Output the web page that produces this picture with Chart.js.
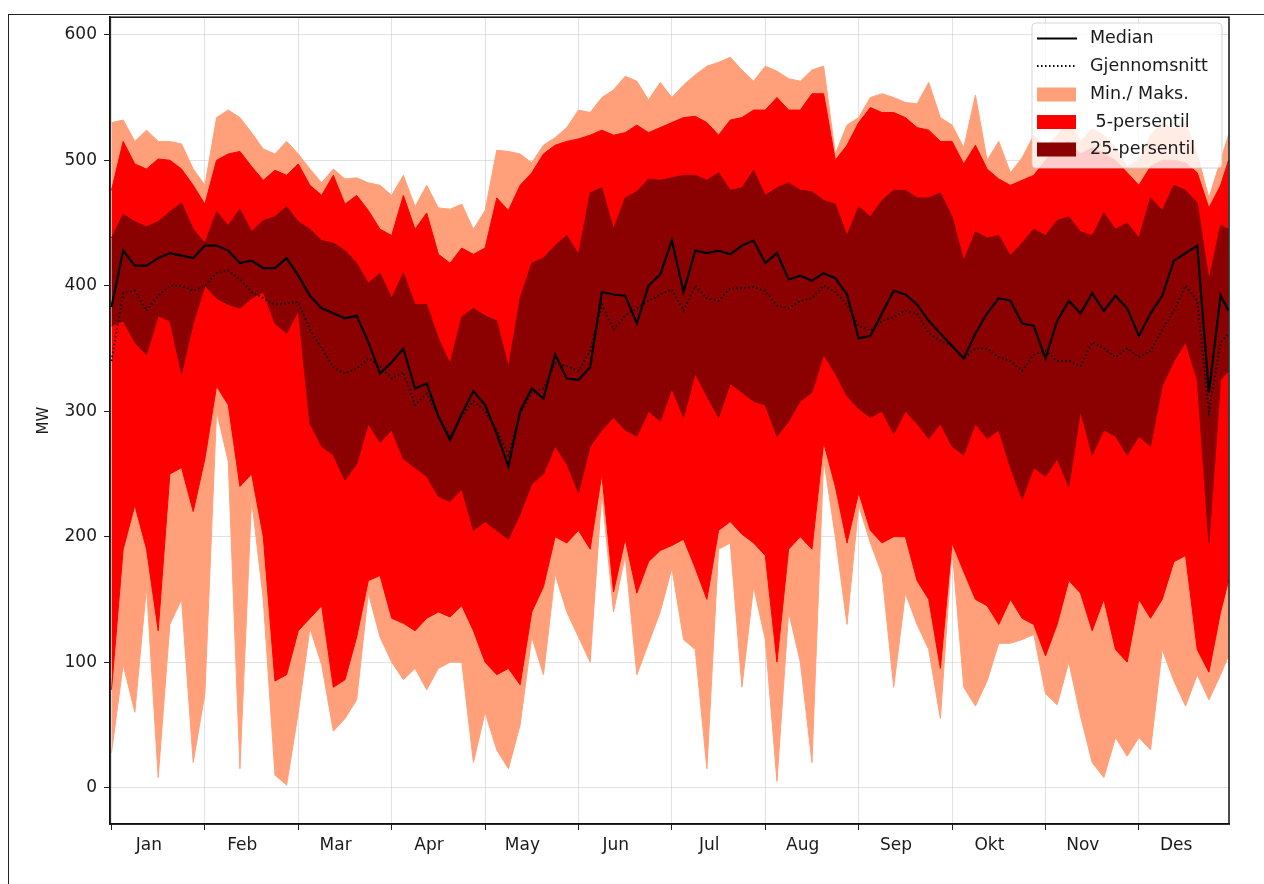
<!DOCTYPE html>
<html>
<head>
<meta charset="utf-8">
<script src="https://cdn.jsdelivr.net/npm/chart.js@4.4.1/dist/chart.umd.min.js"></script>
<style>
  html, body { margin: 0; padding: 0; background: #fff; }
  #wrap { position: relative; width: 1264px; height: 884px; }
  #ramme { position: absolute; left: 8px; top: 14px; right: 0; bottom: 0;
           border-left: 1.5px solid #222; border-top: 1.5px solid #222; }
  canvas { position: absolute; left: 0; top: 0; }
</style>
</head>
<body>
<div id="wrap">
  <div id="ramme"></div>
  <canvas id="graf" width="1264" height="884"></canvas>
</div>
<script>
// Månedsnavn og y-verdier for aksene
const maaneder = ['Jan', 'Feb', 'Mar', 'Apr', 'May', 'Jun', 'Jul', 'Aug', 'Sep', 'Okt', 'Nov', 'Des'];
const yVerdier = [0, 100, 200, 300, 400, 500, 600];
const legendTekster = ['Median', 'Gjennomsnitt', 'Min./ Maks.', ' 5-persentil', '25-persentil'];

// 8 punkter per måned (MW), siste punkt er slutten av desember
const maks = [
  530, 532, 515, 524, 515, 515, 513, 493,
  480, 534, 540, 534, 522, 509, 505, 515,
  505, 493, 482, 493, 485, 486, 482, 480,
  472, 488, 463, 480, 462, 461, 465, 445,
  460, 508, 507, 505, 498, 512, 518, 526,
  540, 538, 550, 556, 567, 563, 548, 562,
  550, 560, 568, 575, 578, 582, 572, 563,
  575, 571, 565, 563, 572, 575, 505, 528,
  534, 550, 553, 550, 546, 545, 562, 534,
  528, 510, 552, 500, 515, 490, 502, 520,
  510, 520, 530, 515, 525, 520, 510, 495,
  500, 520, 530, 525, 530, 505, 470, 500, 520
];
const p95 = [
  476, 515, 497, 493, 501, 500, 493, 480,
  465, 500, 505, 507, 495, 484, 492, 488,
  497, 480, 472, 488, 465, 472, 460, 445,
  440, 472, 445, 458, 425, 418, 430, 425,
  430, 470, 460, 480, 490, 505, 512, 515,
  517, 520, 524, 520, 522, 528, 522, 526,
  530, 534, 535, 530, 520, 532, 534, 540,
  540, 550, 540, 540, 553, 553, 500, 512,
  530, 542, 538, 538, 534, 526, 524, 515,
  515, 497, 512, 493, 485, 480, 484, 488,
  500, 510, 515, 505, 510, 505, 500, 490,
  480, 495, 500, 500, 498, 490, 462, 480, 500
];
const p75 = [
  438, 457, 451, 447, 451, 459, 466, 445,
  434, 459, 448, 461, 443, 452, 455, 463,
  451, 445, 436, 434, 428, 418, 402, 410,
  390, 410, 385, 385, 358, 338, 375, 382,
  376, 372, 335, 390, 418, 422, 432, 440,
  425, 474, 478, 445, 470, 475, 485, 484,
  486, 488, 488, 484, 490, 476, 478, 492,
  472, 478, 482, 476, 475, 468, 465, 440,
  463, 455, 468, 476, 476, 470, 470, 474,
  455, 420, 443, 438, 440, 424, 434, 445,
  440, 452, 455, 443, 440, 458, 445, 450,
  438, 470, 460, 480, 476, 466, 405, 448, 445
];
const median = [
  383, 428, 416, 416, 422, 426, 424, 422,
  432, 432, 428, 418, 420, 414, 414, 422,
  408, 392, 382, 378, 374, 376, 355, 330,
  339, 350, 318, 322, 296, 277, 298, 316,
  305, 282, 256, 300, 318, 310, 345, 326,
  325, 335, 395, 393, 392, 370, 400, 409,
  436, 395, 428, 426, 428, 425, 432, 436,
  418, 426, 405, 408, 404, 410, 406, 393,
  358, 360, 378, 396, 393, 385, 372, 362,
  352, 342, 362, 378, 390, 388, 370, 368,
  342, 372, 388, 378, 394, 380, 392, 382,
  360, 378, 392, 420, 426, 432, 315, 392, 380
];
const snitt = [
  340, 394, 396, 380, 392, 400, 400, 396,
  400, 410, 412, 405, 395, 390, 385, 386,
  387, 365, 350, 335, 330, 334, 342, 336,
  326, 331, 305, 314, 296, 280, 296, 308,
  300, 285, 265, 298, 315, 318, 338, 336,
  332, 348, 385, 365, 376, 382, 388, 393,
  397, 380, 400, 390, 388, 398, 398, 399,
  396, 384, 382, 388, 390, 400, 395, 385,
  368, 364, 372, 375, 380, 378, 362, 356,
  352, 342, 350, 350, 343, 340, 332, 345,
  348, 340, 340, 336, 355, 350, 343, 350,
  343, 348, 365, 380, 400, 388, 300, 355, 362
];
const p25 = [
  368, 372, 355, 345, 376, 372, 330, 370,
  400, 390, 385, 382, 390, 395, 370, 362,
  380, 290, 272, 265, 245, 258, 290, 275,
  285, 262, 255, 248, 232, 228, 238, 205,
  212, 205, 198, 218, 242, 250, 272, 258,
  235, 272, 285, 295, 285, 280, 300, 292,
  318, 295, 330, 312, 295, 322, 315, 308,
  305, 280, 292, 308, 315, 345, 330, 312,
  302, 295, 300, 282, 300, 290, 278, 290,
  272, 265, 290, 278, 285, 255, 230, 255,
  248, 262, 240, 300, 265, 285, 280, 265,
  280, 272, 320, 340, 355, 325, 195, 325, 332
];
const p5 = [
  78, 190, 225, 190, 125, 250, 255, 220,
  262, 320, 305, 240, 250, 200, 85, 90,
  125, 135, 145, 80, 86, 120, 165, 169,
  135, 131, 125, 135, 140, 136, 145, 125,
  100, 90, 95, 82, 140, 160, 200, 195,
  205, 190, 250, 156, 198, 155, 180, 189,
  193, 198, 175, 150, 205, 212, 202, 195,
  185, 100, 190, 200, 190, 275, 240, 195,
  235, 205, 195, 200, 200, 165, 150, 95,
  195, 172, 150, 145, 130, 150, 135, 130,
  105, 130, 165, 155, 125, 150, 110, 100,
  150, 135, 150, 180, 185, 110, 92, 140, 165
];
const minimum = [
  28, 98, 60, 160, 8, 130, 150, 20,
  75, 300, 260, 15, 230, 150, 10, 2,
  60, 127, 98, 45, 55, 70, 155, 120,
  100, 86, 95, 78, 95, 100, 100, 20,
  60, 30, 15, 50, 120, 90, 170, 140,
  120, 100, 235, 140, 185, 90, 115, 140,
  175, 118, 110, 15, 190, 195, 80, 160,
  118, 5, 140, 100, 20, 262, 200, 130,
  225, 195, 170, 80, 155, 130, 110, 55,
  190, 80, 65, 85, 115, 115, 118, 122,
  75, 66, 100, 57, 20, 8, 40, 25,
  40, 30, 110, 85, 65, 90, 70, 90, 105
];

const LAKS = '#FFA07A';
const ROED = '#FF0000';
const MOERKROED = '#8B0000';
const FONT = 'DejaVu Sans';

// x i måneder fra 1. januar
const xPos = i => (i < 96 ? i / 8 : 11.96);
const punkter = arr => arr.map((v, i) => ({ x: xPos(i), y: v }));

function kant(data, farge, order, fill) {
  return {
    data: punkter(data),
    borderColor: farge,
    backgroundColor: farge,
    borderWidth: 1,
    pointRadius: 0,
    tension: 0,
    fill: fill,
    order: order
  };
}

const datasets = [
  kant(maks, LAKS, 6, 1),
  kant(minimum, LAKS, 7, false),
  kant(p95, ROED, 4, 3),
  kant(p5, ROED, 5, false),
  kant(p75, MOERKROED, 2, 5),
  kant(p25, MOERKROED, 3, false),
  { data: punkter(median), borderColor: '#000', borderWidth: 2.2, pointRadius: 0, fill: false, order: 0 },
  { data: punkter(snitt), borderColor: '#111', borderWidth: 2, borderDash: [1.5, 2.5], pointRadius: 0, fill: false, order: 1 }
];

// ramme rundt plottet + legend inne i plottet
const rammeOgLegend = {
  id: 'rammeOgLegend',
  afterDraw(chart) {
    const ctx = chart.ctx;
    const a = chart.chartArea;
    ctx.save();
    ctx.strokeStyle = '#111';
    ctx.lineWidth = 1.5;
    ctx.strokeRect(a.left, a.top, a.right - a.left, a.bottom - a.top);

    const lx = 1032, ly = 23, lw = 190, lh = 145;
    ctx.beginPath();
    ctx.roundRect(lx, ly, lw, lh, 4);
    ctx.fillStyle = 'rgba(255,255,255,0.8)';
    ctx.fill();
    ctx.strokeStyle = 'rgba(204,204,204,0.8)';
    ctx.lineWidth = 1;
    ctx.stroke();

    const rader = [38.5, 66, 94.5, 122, 149.5];
    ctx.lineWidth = 2;
    ctx.strokeStyle = '#000';
    ctx.beginPath();
    ctx.moveTo(1037, rader[0]); ctx.lineTo(1077, rader[0]);
    ctx.stroke();
    ctx.setLineDash([1.5, 2.5]);
    ctx.beginPath();
    ctx.moveTo(1037, rader[1]); ctx.lineTo(1077, rader[1]);
    ctx.stroke();
    ctx.setLineDash([]);
    [LAKS, ROED, MOERKROED].forEach((f, i) => {
      ctx.fillStyle = f;
      ctx.fillRect(1037, rader[i + 2] - 7, 39, 14);
    });

    ctx.fillStyle = '#1a1a1a';
    ctx.font = '17.5px "' + FONT + '"';
    ctx.textBaseline = 'middle';
    legendTekster.forEach((t, i) => ctx.fillText(t, 1090, rader[i]));
    ctx.restore();
  }
};

new Chart(document.getElementById('graf'), {
  type: 'line',
  data: { datasets },
  options: {
    responsive: false,
    animation: false,
    devicePixelRatio: 1,
    layout: { padding: { left: 0, right: 35, top: 14, bottom: 0 } },
    plugins: { legend: { display: false }, tooltip: { enabled: false } },
    scales: {
      x: {
        type: 'linear',
        min: -0.016,
        max: 11.965,
        z: 1,
        afterBuildTicks: s => {
          const t = [];
          maaneder.forEach((m, i) => { t.push({ value: i }); t.push({ value: i + 0.4 }); });
          s.ticks = t;
        },
        afterFit: s => { s.height = 60; },
        grid: {
          color: c => Number.isInteger(c.tick.value) ? 'rgba(190,190,190,0.45)' : 'transparent',
          tickColor: c => Number.isInteger(c.tick.value) ? '#222' : 'transparent',
          tickLength: 6
        },
        border: { display: true, color: '#111', width: 1.5 },
        ticks: {
          autoSkip: false,
          maxRotation: 0,
          padding: 5,
          color: '#1a1a1a',
          font: { family: FONT, size: 17 },
          callback: v => Number.isInteger(v) ? '' : maaneder[Math.floor(v)]
        }
      },
      y: {
        min: -29,
        max: 614,
        z: 1,
        afterBuildTicks: s => { s.ticks = yVerdier.map(v => ({ value: v })); },
        afterFit: s => { s.width = 110; },
        grid: { color: 'rgba(190,190,190,0.45)', tickColor: '#222', tickLength: 6 },
        border: { display: true, color: '#111', width: 1.5 },
        ticks: { color: '#1a1a1a', font: { family: FONT, size: 17 }, padding: 7 },
        title: {
          display: true,
          text: 'MW',
          color: '#1a1a1a',
          font: { family: FONT, size: 15 },
          padding: { top: 35, bottom: 0 }
        }
      }
    }
  },
  plugins: [rammeOgLegend]
});
</script>
</body>
</html>
